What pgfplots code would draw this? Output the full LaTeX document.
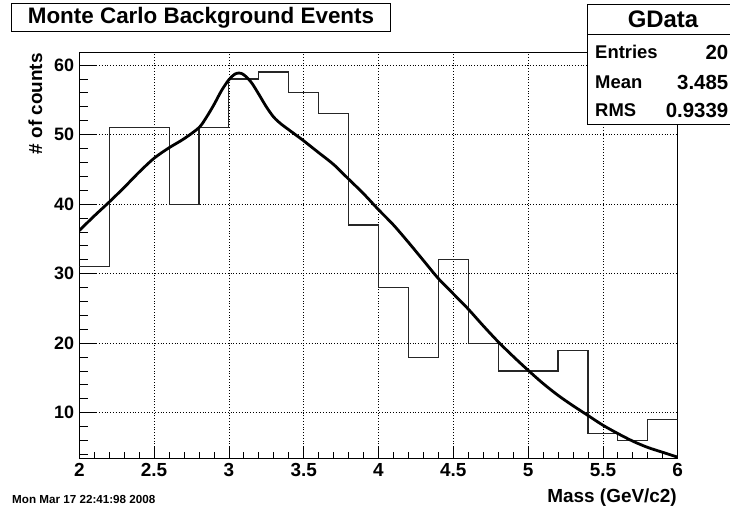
\documentclass[border=0pt]{standalone}
\usepackage{fontspec}
\setmainfont{Liberation Sans}
\usepackage{pgfplots}
\pgfplotsset{compat=1.18}
\newcommand\fs[1]{\bfseries\fontsize{#1}{#1}\selectfont}
\begin{document}
\begin{tikzpicture}[x=1bp,y=1bp]
\useasboundingbox (0,0) rectangle (730,508);
\begin{axis}[
at={(79.3bp,49.7bp)}, anchor=south west,
scale only axis, width=598.4bp, height=405.6bp,
xmin=2, xmax=6, ymin=3.44, ymax=61.78,
xtick={2,2.5,...,6}, minor x tick num=4,
ytick={10,20,...,60}, minor ytick={4,6,...,60},
xtick pos=bottom, ytick pos=left, tick align=inside,
xtick style={/pgfplots/major tick length=12bp, /pgfplots/minor tick length=6bp, black, line width=0.8bp},
ytick style={/pgfplots/major tick length=17bp, /pgfplots/minor tick length=9bp, black, line width=0.8bp},
axis line style={black, line width=0.8bp},
grid=major,
major grid style={black, line width=0.7bp, dash pattern=on 0.8bp off 2bp},
/pgf/number format/assume math mode=true,
xticklabel style={font=\fs{19}, inner sep=0pt, anchor=north, yshift=-4.5bp},
yticklabel style={font=\fs{18}, inner sep=0pt, anchor=east, xshift=-5bp},
]
% histogram, bins of 0.2 from 2 to 6
\addplot[const plot, draw=black!85, line width=1.1bp] coordinates {
(2.0,31)(2.2,51)(2.4,51)(2.6,40)(2.8,51)(3.0,58)(3.2,59)(3.4,56)(3.6,53)(3.8,37)
(4.0,28)(4.2,18)(4.4,32)(4.6,20)(4.8,16)(5.0,16)(5.2,19)(5.4,7)(5.6,6)(5.8,9)(6.0,9)};
% fit curve
\addplot[smooth, black, line width=2.8bp] coordinates {
(2.0,36.2)(2.1,38.3)(2.2,40.3)(2.3,42.4)(2.4,44.6)(2.5,46.6)(2.6,48.1)(2.7,49.4)
(2.8,51.0)(2.85,52.5)(2.9,54.3)(2.95,56.3)(3.0,57.9)(3.04,58.7)(3.07,58.85)(3.1,58.6)
(3.15,57.5)(3.2,55.8)(3.25,54.0)(3.3,52.5)(3.35,51.5)(3.4,50.7)(3.5,49.1)(3.6,47.4)
(3.7,45.7)(3.8,43.6)(3.9,41.5)(4.0,39.2)(4.1,37.0)(4.2,34.5)(4.3,31.9)(4.4,29.3)
(4.5,27.1)(4.6,24.9)(4.7,22.5)(4.8,20.2)(4.9,18.1)(5.0,16.1)(5.1,14.2)(5.2,12.5)
(5.3,11.0)(5.4,9.6)(5.5,8.2)(5.6,7.0)(5.7,5.9)(5.8,5.0)(5.9,4.3)(6.0,3.6)};
\end{axis}
% title box
\node[draw=black, line width=1bp, fill=white, minimum width=378bp, minimum height=28bp,
  inner sep=0pt, font=\fs{22.5}] at (201,490) {Monte Carlo Background Events};
% stats box
\draw[fill=white, line width=1bp] (587.7,503.7) rectangle (745,383);
\draw[line width=1bp] (587.7,473) -- (745,473);
\node[font=\fs{24}] at (663,488.5) {GData};
\node[font=\fs{18.5}, anchor=west, inner sep=0pt] at (595,456) {Entries};
\node[font=\fs{18.5}, anchor=west, inner sep=0pt] at (595,426) {Mean};
\node[font=\fs{18.5}, anchor=west, inner sep=0pt] at (595,398) {RMS};
\node[font=\fs{20.5}, anchor=east, inner sep=0pt] at (728.5,456) {20};
\node[font=\fs{20.5}, anchor=east, inner sep=0pt] at (728.5,426) {3.485};
\node[font=\fs{20.5}, anchor=east, inner sep=0pt] at (728.5,398) {0.9339};
% axis titles
\node[font=\fs{19}, rotate=90, anchor=base east, inner sep=0pt] at (42,455) {\# of counts};
\node[font=\fs{19}, anchor=base east, inner sep=0pt] at (677,5) {Mass (GeV/c2)};
\node[font=\fs{11.7}, anchor=base west, inner sep=0pt] at (12,4) {Mon Mar 17 22:41:98 2008};
\end{tikzpicture}
\end{document}
